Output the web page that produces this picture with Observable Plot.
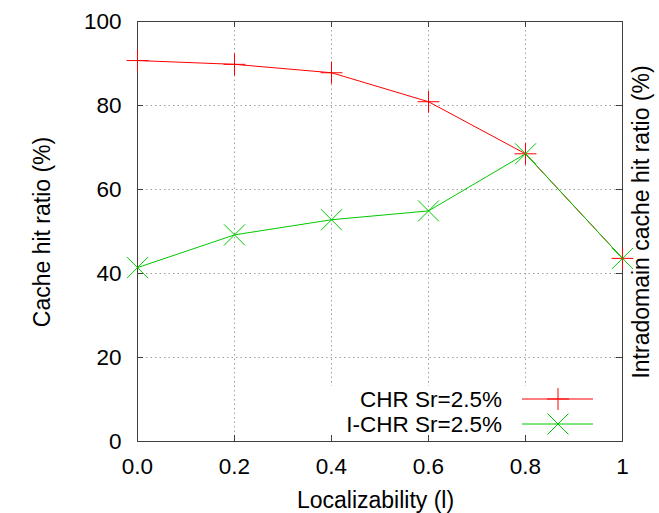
<!DOCTYPE html>
<html><head><meta charset="utf-8">
<script src="https://cdn.jsdelivr.net/npm/d3@7"></script>
<script src="https://cdn.jsdelivr.net/npm/@observablehq/plot@0.6"></script>
<style>
body{margin:0;background:#fff}
#chart svg{font-family:"Liberation Sans",Arial,Helvetica,sans-serif;display:block}
</style>
</head><body><div id="chart"></div>
<script>
// ---- data ----
const localizability = [0, 0.2, 0.4, 0.6, 0.8, 1.0];
const chrValues = [90.7, 89.8, 87.8, 80.9, 68.5, 43.6];
const ichrValues = [41.4, 49.2, 52.8, 54.9, 68.5, 43.6];
const seriesNames = ["CHR Sr=2.5%", "I-CHR Sr=2.5%"];
const seriesColors = ["#ff0000", "#00c800"];
const xTicks = [0, 0.2, 0.4, 0.6, 0.8, 1];
const xTickLabels = ["0.0", "0.2", "0.4", "0.6", "0.8", "1"];
const yTicks = [0, 20, 40, 60, 80, 100];
const yTickLabels = ["0", "20", "40", "60", "80", "100"];
const xLabel = "Localizability (l)";
const yLabel = "Cache hit ratio (%)";
const y2Label = "Intradomain cache hit ratio (%)";

const chr = localizability.map((x, i) => ({x, y: chrValues[i]}));
const ichr = localizability.map((x, i) => ({x, y: ichrValues[i]}));

const W = 659, H = 513, mL = 137, mR = 37, mT = 21, mB = 72;
const fw = W - mL - mR, fh = H - mT - mB;
const axisColor = "#404040";
const tickLen = 6;
const grid = {stroke: "#a0a0a0", strokeOpacity: 1, strokeDasharray: "1.5,3", strokeWidth: 1};

const plot = Plot.plot({
  width: W, height: H,
  marginLeft: mL, marginRight: mR, marginTop: mT, marginBottom: mB,
  style: {fontSize: "22.5px", color: "#000", background: "#fff", overflow: "visible"},
  x: {domain: [0, 1]},
  y: {domain: [0, 100]},
  marks: [
    Plot.gridX(xTicks.slice(1, -1), grid),
    Plot.gridY(yTicks.slice(1, -1), grid),
    Plot.frame({stroke: axisColor, strokeWidth: 1}),
    Plot.tickX(xTicks, {x: d => d, insetTop: fh - tickLen, stroke: axisColor}),
    Plot.tickX(xTicks, {x: d => d, insetBottom: fh - tickLen, stroke: axisColor}),
    Plot.tickY(yTicks, {y: d => d, insetRight: fw - tickLen, stroke: axisColor}),
    Plot.tickY(yTicks, {y: d => d, insetLeft: fw - tickLen, stroke: axisColor}),
    Plot.axisX(xTicks, {tickSize: 0, tickPadding: 17, label: null,
      tickFormat: d => xTickLabels[xTicks.indexOf(d)]}),
    Plot.axisY(yTicks, {tickSize: 0, tickPadding: 16, label: null,
      tickFormat: d => yTickLabels[yTicks.indexOf(d)]}),
    Plot.line(chr, {x: "x", y: "y", stroke: seriesColors[0], strokeWidth: 1}),
    Plot.line(ichr, {x: "x", y: "y", stroke: seriesColors[1], strokeWidth: 1}),
    Plot.dot(chr, {x: "x", y: "y", symbol: "plus", r: 7.1, stroke: seriesColors[0], fill: "none", strokeWidth: 1}),
    Plot.dot(ichr, {x: "x", y: "y", symbol: "times", r: 9.6, stroke: seriesColors[1], fill: "none", strokeWidth: 1})
  ]
});
document.getElementById("chart").appendChild(plot);

// ---- overlays: axis titles and key ----
const svg = d3.select(plot);
const xr = plot.scale("x").range, yr = plot.scale("y").range;
const fL = xr[0], fR = xr[1], fB = yr[0], fT = yr[1];

// white key box over the grid (inserted after the grid groups)
const gridGroups = svg.selectAll("g[aria-label='y-grid']").nodes();
const box = document.createElementNS("http://www.w3.org/2000/svg", "rect");
gridGroups[gridGroups.length - 1].after(box);
d3.select(box).attr("x", fR - 292).attr("y", fB - 55).attr("width", 291).attr("height", 54).attr("fill", "#fff");

svg.append("text").attr("x", (fL + fR) / 2 - 4).attr("y", fB + 67)
  .attr("text-anchor", "middle").attr("font-size", 23).attr("fill", "#000").text(xLabel);
svg.append("text").attr("transform", `translate(${fL - 95},${(fT + fB) / 2 + 1}) rotate(-90)`)
  .attr("text-anchor", "middle").attr("dy", "0.35em").attr("font-size", 23).attr("fill", "#000").text(yLabel);
svg.append("text").attr("transform", `translate(${fR + 19},${(fT + fB) / 2 - 9}) rotate(-90)`)
  .attr("text-anchor", "middle").attr("dy", "0.35em").attr("font-size", 23).attr("fill", "#000").text(y2Label);

const key = svg.append("g");
const rowsY = [fB - 42, fB - 17];
seriesNames.forEach((name, i) => {
  const yy = rowsY[i];
  key.append("text").attr("x", fR - 120).attr("y", yy).attr("dy", "0.35em")
    .attr("text-anchor", "end").attr("font-size", 22.5).attr("fill", "#000").text(name);
  key.append("line").attr("x1", fR - 100).attr("x2", fR - 29).attr("y1", yy).attr("y2", yy)
    .attr("stroke", seriesColors[i]).attr("stroke-width", 1);
  const cx = fR - 64;
  const sym = d3.symbol().type(i === 0 ? d3.symbolPlus : d3.symbolTimes)
    .size(Math.PI * (i === 0 ? 7.1 : 9.6) ** 2);
  key.append("path").attr("transform", `translate(${cx},${yy})`).attr("d", sym())
    .attr("fill", "none").attr("stroke", seriesColors[i]).attr("stroke-width", 1);
});
</script>
</body></html>
